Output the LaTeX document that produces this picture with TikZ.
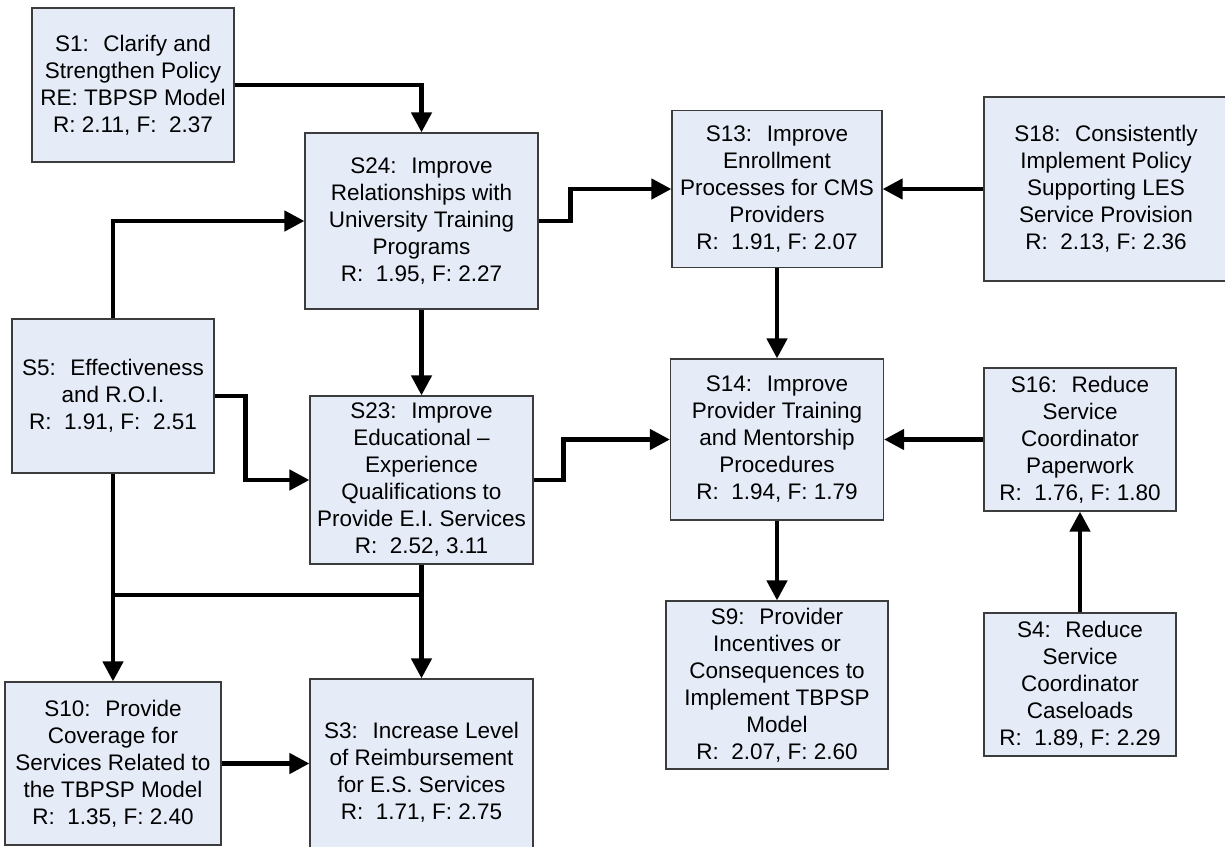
\documentclass[tikz,border=0pt]{standalone}
\usepackage{fontspec}
\setmainfont{Liberation Sans}
\usetikzlibrary{arrows.meta}
\definecolor{boxfill}{RGB}{229,236,248}
\definecolor{boxline}{RGB}{60,60,60}
\tikzset{
  sbox/.style={draw=boxline, line width=1.2pt, fill=boxfill, rectangle, inner sep=0pt,
    align=center, font=\fontsize{22.5}{27}\selectfont},
  conn/.style={line width=4.5pt, black},
  arr/.style={conn, -{Triangle[length=20pt,width=20pt]}}
}
\begin{document}
\begin{tikzpicture}[x=1pt,y=-1pt]
\useasboundingbox (0,0) rectangle (1225,846);
\clip (0,0) rectangle (1225,846);
\fill[white] (0,0) rectangle (1225,846);
\node[sbox, minimum width=202, minimum height=154] (s1) at (133,85) {S1:~ Clarify and\\Strengthen Policy\\RE: TBPSP Model\\R: 2.11, F:~ 2.37};
\node[sbox, minimum width=233, minimum height=176] (s24) at (421.5,221) {S24:~ Improve\\Relationships with\\University Training\\Programs\\R:~ 1.95, F: 2.27};
\node[sbox, minimum width=210, minimum height=157] (s13) at (777,189) {S13:~ Improve\\Enrollment\\Processes for CMS\\Providers\\R:~ 1.91, F: 2.07};
\node[sbox, minimum width=244, minimum height=184] (s18) at (1106,189) {S18:~ Consistently\\Implement Policy\\Supporting LES\\Service Provision\\R:~ 2.13, F: 2.36};
\node[sbox, minimum width=202, minimum height=154] (s5) at (113,396) {S5:~ Effectiveness\\and R.O.I.\\R:~ 1.91, F:~ 2.51};
\node[sbox, minimum width=223, minimum height=168] (s23) at (421.5,480) {S23:~ Improve\\Educational --\\Experience\\Qualifications to\\Provide E.I. Services\\R:~ 2.52, 3.11};
\node[sbox, minimum width=213, minimum height=161] (s14) at (777,439.5) {S14:~ Improve\\Provider Training\\and Mentorship\\Procedures\\R:~ 1.94, F: 1.79};
\node[sbox, minimum width=192, minimum height=143] (s16) at (1080,439.5) {S16:~ Reduce\\Service\\Coordinator\\Paperwork\\R:~ 1.76, F: 1.80};
\node[sbox, minimum width=222, minimum height=168] (s9) at (777,685) {S9:~ Provider\\Incentives or\\Consequences to\\Implement TBPSP\\Model\\R:~ 2.07, F: 2.60};
\node[sbox, minimum width=192, minimum height=143] (s4) at (1080,684.5) {S4:~ Reduce\\Service\\Coordinator\\Caseloads\\R:~ 1.89, F: 2.29};
\node[sbox, minimum width=216, minimum height=163] (s10) at (113,763.5) {S10:~ Provide\\Coverage for\\Services Related to\\the TBPSP Model\\R:~ 1.35, F: 2.40};
\node[sbox, minimum width=223, minimum height=186] (s3) at (421.5,772) {S3:~ Increase Level\\of Reimbursement\\for E.S. Services\\R:~ 1.71, F: 2.75};
\coordinate (busL) at (113,595);
\coordinate (busR) at (421.5,595);
\draw[arr] (s1.east) -| (s24.north);
\draw[arr] (s5.north) |- (s24.west);
\draw[arr] (s24.east) -- ++(32,0) |- (s13.west);
\draw[arr] (s18.west) -- (s13.east);
\draw[arr] (s24.south) -- (s23.north);
\draw[arr] (s13.south) -- (s14.north);
\draw[arr] (s5.east) -- ++(31,0) |- (s23.west);
\draw[arr] (s23.east) -- ++(30,0) |- (s14.west);
\draw[arr] (s16.west) -- (s14.east);
\draw[arr] (s14.south) -- (s9.north);
\draw[arr] (s4.north) -- (s16.south);
\draw[arr] (s5.south) -- (s10.north);
\draw[arr] (s23.south) -- (s3.north);
\draw[conn] (busL) -- (busR);
\draw[arr] (s10.east) -- (s10.east -| s3.west);
\end{tikzpicture}
\end{document}
